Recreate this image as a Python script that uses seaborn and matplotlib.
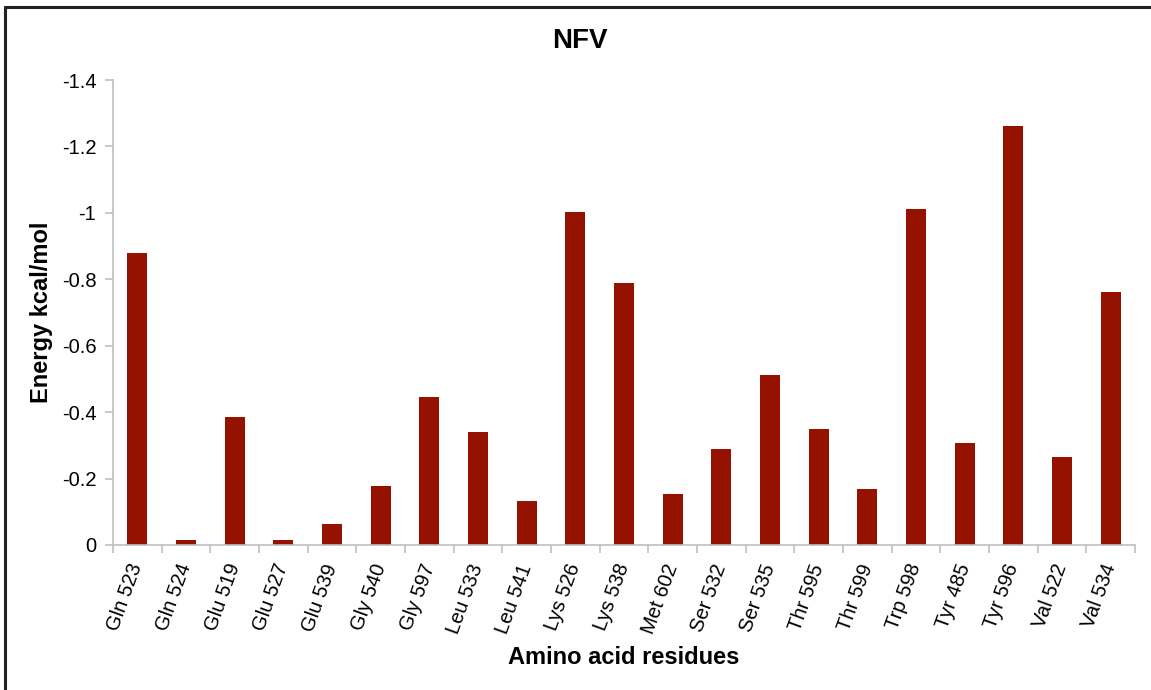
import numpy as np
import pandas as pd
import matplotlib
matplotlib.use("Agg")
import matplotlib.pyplot as plt
import seaborn as sns
from matplotlib.lines import Line2D
from matplotlib.ticker import FixedLocator, FuncFormatter

residues = ["Gln 523", "Gln 524", "Glu 519", "Glu 527", "Glu 539", "Gly 540", "Gly 597",
            "Leu 533", "Leu 541", "Lys 526", "Lys 538", "Met 602", "Ser 532", "Ser 535",
            "Thr 595", "Thr 599", "Trp 598", "Tyr 485", "Tyr 596", "Val 522", "Val 534"]
energy = [-0.879, -0.016, -0.386, -0.014, -0.064, -0.179, -0.447,
          -0.341, -0.131, -1.002, -0.790, -0.154, -0.288, -0.513,
          -0.349, -0.168, -1.013, -0.308, -1.261, -0.264, -0.761]
y_ticks = [0, -0.2, -0.4, -0.6, -0.8, -1.0, -1.2, -1.4]

sns.set_theme(style="white")
plt.rcParams['font.family'] = ['Liberation Sans', 'DejaVu Sans']
plt.rcParams['text.color'] = "black"
plt.rcParams['axes.labelcolor'] = "black"
plt.rcParams['xtick.color'] = "black"
plt.rcParams['ytick.color'] = "black"

W, H = 1151, 690
fig = plt.figure(figsize=(W / 100, H / 100), dpi=100)
fig.patch.set_facecolor("white")
ax = fig.add_axes([113 / W, 1 - 545 / H, (1135 - 113) / W, (545 - 80) / H])

df = pd.DataFrame({"Residue": residues, "Energy": energy})
sns.barplot(data=df, x="Residue", y="Energy", color="#951100", saturation=1,
            width=0.41, linewidth=0, ax=ax)

ax.set_ylim(0, -1.4)
ax.set_xlim(-0.5, len(residues) - 0.5)
ax.set_yticks(y_ticks)
ax.yaxis.set_major_formatter(FuncFormatter(lambda v, p: "0" if abs(v) < 1e-9 else "%g" % round(v, 2)))

grey = "#BFBFBF"
for side in ["top", "right"]:
    ax.spines[side].set_visible(False)
for side in ["left", "bottom"]:
    ax.spines[side].set_color(grey)
    ax.spines[side].set_linewidth(1.2)

ax.tick_params(axis="y", which="major", direction="out", length=6, width=1.2,
               color=grey, labelsize=14.5, labelcolor="black", left=True, pad=6)
ax.set_xticks(range(len(residues)))
ax.set_xticklabels(residues, rotation=70, ha="right", va="center",
                   rotation_mode="anchor", fontsize=14.5, color="black")
ax.tick_params(axis="x", which="major", length=0, pad=14)
ax.xaxis.set_minor_locator(FixedLocator(np.arange(-0.5, len(residues), 1.0)))
ax.tick_params(axis="x", which="minor", direction="out", length=6, width=1.2,
               color=grey, bottom=True)

ax.set_xlabel("")
ax.set_ylabel("")

fig.text(42 / W, 1 - 312 / H, "Energy kcal/mol", ha="center", va="center",
         rotation=90, fontsize=17, fontweight="bold", color="black")
fig.text(624 / W, 1 - 658 / H, "Amino acid residues", ha="center", va="center",
         fontsize=17, fontweight="bold", color="black")
fig.text(579.5 / W, 1 - 41 / H, "NFV", ha="center", va="center",
         fontsize=20, fontweight="bold", color="black")

# outer border (top and left)
fig.add_artist(Line2D([5 / W, 1], [1 - 7 / H, 1 - 7 / H], transform=fig.transFigure,
                      color="#222222", linewidth=2.2))
fig.add_artist(Line2D([5 / W, 5 / W], [0, 1 - 7 / H], transform=fig.transFigure,
                      color="#222222", linewidth=2.2))

fig.savefig("out.png", dpi=100, facecolor="white")
